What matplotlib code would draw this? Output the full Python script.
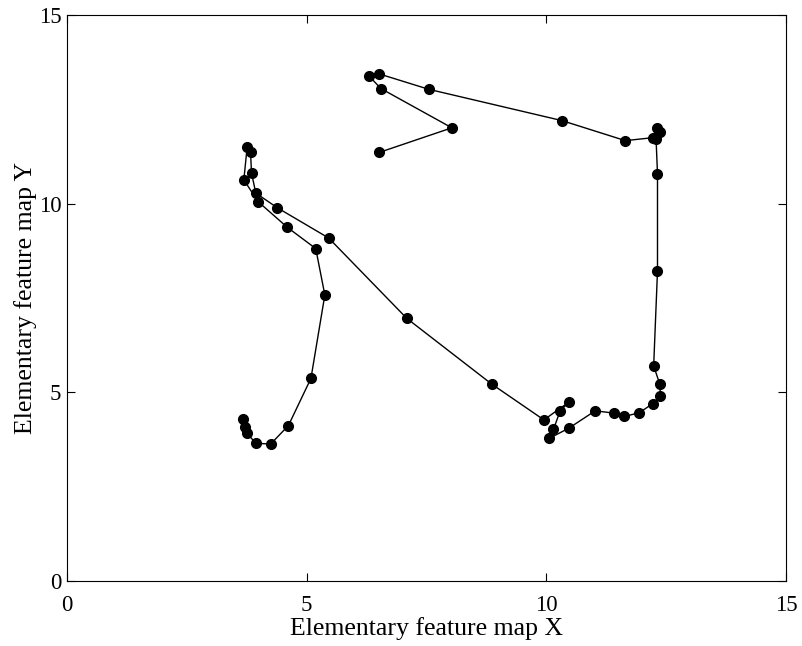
import matplotlib
matplotlib.use('Agg')
import matplotlib.pyplot as plt

# trajectory on the elementary feature map, in drawing order
map_x = [3.68, 3.71, 3.76, 3.94, 4.25, 4.62, 5.09, 5.38, 5.19, 4.60,
         3.99, 3.69, 3.76, 3.83, 3.85, 3.94, 4.39, 5.46, 7.09, 8.86,
         9.95, 10.47, 10.29, 10.15, 10.06, 10.47, 11.02, 11.41, 11.63, 11.94,
         12.22, 12.38, 12.37, 12.24, 12.32, 12.32, 12.29, 12.37, 12.32, 12.23,
         11.65, 10.33, 7.55, 6.51, 6.31, 6.55, 8.03, 6.52]
map_y = [4.29, 4.09, 3.91, 3.65, 3.63, 4.12, 5.37, 7.58, 8.81, 9.37,
         10.05, 10.63, 11.51, 11.37, 10.81, 10.28, 9.89, 9.09, 6.96, 5.22,
         4.27, 4.74, 4.51, 4.02, 3.78, 4.05, 4.51, 4.45, 4.36, 4.46,
         4.70, 4.91, 5.21, 5.70, 8.22, 10.79, 11.71, 11.89, 12.01, 11.75,
         11.67, 12.20, 13.03, 13.44, 13.37, 13.05, 12.01, 11.36]

ticks = [0, 5, 10, 15]

plt.rcParams['font.family'] = ['Liberation Serif', 'DejaVu Serif']

fig = plt.figure(figsize=(8.02, 6.46), dpi=100)
ax = fig.add_axes([0.0835, 0.1006, 0.8965, 0.8762])

ax.plot(map_x, map_y, color='black', linewidth=1.0, marker='o',
        markersize=7, markerfacecolor='black', markeredgecolor='black')

ax.set_xlim(0, 15)
ax.set_ylim(0, 15)
ax.set_xticks(ticks)
ax.set_yticks(ticks)
ax.tick_params(direction='in', top=True, right=True, length=6,
               labelsize=16.5, width=0.8)
ax.tick_params(axis='x', pad=10)
ax.tick_params(axis='y', pad=4)
for s in ax.spines.values():
    s.set_linewidth(0.8)

ax.set_xlabel('Elementary feature map X', fontsize=18.5, labelpad=1)
ax.set_ylabel('Elementary feature map Y', fontsize=18.5, labelpad=1)

fig.savefig('out.png', dpi=100)
